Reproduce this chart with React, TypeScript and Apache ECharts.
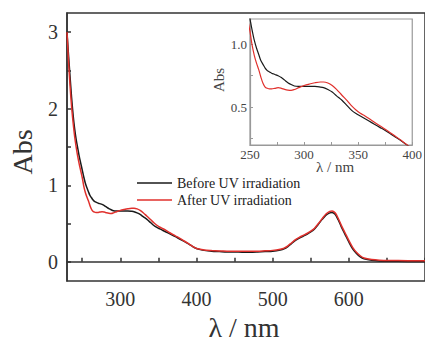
import React, { useEffect, useRef } from "react";
import * as echarts from "echarts";

const wavelengths = [
  230, 232, 234, 236, 238, 240, 242, 244, 246, 248, 250, 252, 254, 256, 258, 260, 262, 264, 266, 268,
  270, 273, 276, 279, 282, 285, 288, 291, 295, 300, 305, 310, 315, 318, 322, 326, 330, 335, 340, 344,
  348, 352, 356, 360, 365, 370, 375, 380, 385, 390, 395, 400, 405, 410, 420, 430, 440, 450, 460, 470,
  480, 490, 500, 510, 515, 520, 525, 530, 535, 540, 545, 550, 555, 560, 565, 570, 575, 578, 582, 586,
  590, 595, 600, 605, 610, 615, 620, 630, 640, 660, 680, 700,
];

const beforeUV = [
  3.0, 2.7, 2.42, 2.15, 1.92, 1.74, 1.6, 1.49, 1.38, 1.29, 1.2, 1.11, 1.03, 0.97, 0.92, 0.87, 0.84, 0.81, 0.79, 0.78,
  0.77, 0.76, 0.75, 0.735, 0.715, 0.695, 0.68, 0.668, 0.665, 0.665, 0.665, 0.665, 0.66, 0.655, 0.64, 0.62, 0.59, 0.555, 0.51, 0.475,
  0.45, 0.43, 0.41, 0.39, 0.365, 0.34, 0.315, 0.287, 0.26, 0.232, 0.2, 0.175, 0.16, 0.15, 0.14, 0.135, 0.13, 0.128, 0.127, 0.127,
  0.13, 0.135, 0.14, 0.155, 0.17, 0.2, 0.24, 0.28, 0.31, 0.335, 0.36, 0.39, 0.43, 0.49, 0.555, 0.61, 0.64, 0.645, 0.62, 0.55,
  0.46, 0.36, 0.26, 0.17, 0.11, 0.065, 0.04, 0.02, 0.012, 0.008, 0.005, 0.005,
];

const afterUV = [
  3.0, 2.62, 2.3, 2.03, 1.82, 1.64, 1.5, 1.38, 1.28, 1.19, 1.1, 0.99, 0.91, 0.85, 0.8, 0.74, 0.69, 0.66, 0.65, 0.645,
  0.645, 0.65, 0.655, 0.65, 0.642, 0.636, 0.633, 0.64, 0.655, 0.672, 0.684, 0.694, 0.7, 0.7, 0.692, 0.672, 0.642, 0.595, 0.55, 0.51,
  0.478, 0.452, 0.432, 0.41, 0.38, 0.352, 0.325, 0.296, 0.266, 0.235, 0.203, 0.175, 0.165, 0.155, 0.148, 0.143, 0.14, 0.138, 0.137, 0.138,
  0.14, 0.145, 0.15, 0.165, 0.18, 0.21, 0.25, 0.29, 0.32, 0.345, 0.37, 0.4, 0.44, 0.5, 0.565, 0.625, 0.66, 0.665, 0.64, 0.57,
  0.48, 0.38, 0.28, 0.19, 0.125, 0.08, 0.05, 0.03, 0.022, 0.018, 0.015, 0.015,
];

const mainXTicks = [250, 300, 350, 400, 450, 500, 550, 600, 650, 700];
const mainXLabels = [300, 400, 500, 600];
const mainYTicks = [0, 0.5, 1, 1.5, 2, 2.5, 3];
const mainYLabels = [0, 1, 2, 3];
const insetXTicks = [250, 275, 300, 325, 350, 375, 400];
const insetXLabels = [250, 300, 350, 400];
const insetYTicks = [0.25, 0.5, 0.75, 1.0];
const insetYLabels = [0.5, 1.0];

const seriesNames = ["Before UV irradiation", "After UV irradiation"];
const FONT = "Liberation Serif";

export default function App() {
  const ref = useRef<HTMLDivElement>(null);
  useEffect(() => {
    document.body.style.margin = "0";
    if (!ref.current) return;
    const chart = echarts.init(ref.current, undefined, { renderer: "svg" });
    const before = wavelengths.map((w, i) => [w, beforeUV[i]]);
    const after = wavelengths.map((w, i) => [w, afterUV[i]]);
    const mainAxisLine = { lineStyle: { color: "#333", width: 1.5 } };
    const insetAxisLine = { lineStyle: { color: "#999", width: 1.2 } };
    const txt = (text: string, x: number, y: number, size: number, fill: string, rot = 0) => ({
      type: "text", x, y, rotation: rot,
      style: { text, fontFamily: FONT, fontSize: size, fill, align: "center", verticalAlign: "middle" },
    });
    chart.setOption({
      animation: false,
      backgroundColor: "#fff",
      textStyle: { fontFamily: FONT },
      grid: [
        { left: 67, right: -9, top: 13, bottom: 64, show: true, borderColor: "#333", borderWidth: 1.5 },
        { left: 250, top: 19, width: 170, height: 126, show: true, borderColor: "#999", borderWidth: 1.2, backgroundColor: "#fff" },
      ],
      legend: {
        data: seriesNames.map((n) => ({ name: n, icon: "rect" })),
        orient: "vertical",
        left: 137,
        top: 176,
        itemWidth: 35,
        itemHeight: 1.5,
        itemGap: 3,
        padding: 0,
        textStyle: { fontFamily: FONT, fontSize: 14, color: "#222" },
      },
      xAxis: [
        {
          gridIndex: 0, type: "value", min: 230, max: 700,
          axisLine: mainAxisLine,
          splitLine: { show: false },
          axisTick: { inside: true, length: 4, lineStyle: { color: "#333", width: 1.5 }, customValues: mainXTicks },
          axisLabel: { customValues: mainXLabels, fontFamily: FONT, fontSize: 20, color: "#333", margin: 8 },
        },
        {
          gridIndex: 1, type: "value", min: 250, max: 400,
          axisLine: insetAxisLine,
          splitLine: { show: false },
          axisTick: { inside: true, length: 3, lineStyle: { color: "#999", width: 1 }, customValues: insetXTicks },
          axisLabel: { customValues: insetXLabels, fontFamily: FONT, fontSize: 13, color: "#444", margin: 3 },
        },
      ],
      yAxis: [
        {
          gridIndex: 0, type: "value", min: -0.25, max: 3.25,
          axisLine: mainAxisLine,
          splitLine: { show: false },
          axisTick: { inside: true, length: 4, lineStyle: { color: "#333", width: 1.5 }, customValues: mainYTicks },
          axisLabel: { customValues: mainYLabels, fontFamily: FONT, fontSize: 20, color: "#333", margin: 9 },
        },
        {
          gridIndex: 1, type: "value", min: 0.2, max: 1.2,
          axisLine: insetAxisLine,
          splitLine: { show: false },
          axisTick: { inside: true, length: 3, lineStyle: { color: "#999", width: 1 }, customValues: insetYTicks },
          axisLabel: { customValues: insetYLabels, fontFamily: FONT, fontSize: 13, color: "#444", margin: 3, formatter: (v: number) => v.toFixed(1) },
        },
      ],
      series: [
        { name: seriesNames[0], type: "line", xAxisIndex: 0, yAxisIndex: 0, data: before, symbol: "none", smooth: 0.3, clip: true, lineStyle: { color: "#1a1a1a", width: 1.5 }, itemStyle: { color: "#1a1a1a" } },
        { name: seriesNames[1], type: "line", xAxisIndex: 0, yAxisIndex: 0, data: after, symbol: "none", smooth: 0.3, clip: true, lineStyle: { color: "#e0302c", width: 1.5 }, itemStyle: { color: "#e0302c" } },
        { name: seriesNames[0], type: "line", xAxisIndex: 1, yAxisIndex: 1, data: before, symbol: "none", smooth: 0.3, clip: true, lineStyle: { color: "#1a1a1a", width: 1.2 }, itemStyle: { color: "#1a1a1a" } },
        { name: seriesNames[1], type: "line", xAxisIndex: 1, yAxisIndex: 1, data: after, symbol: "none", smooth: 0.3, clip: true, lineStyle: { color: "#e0302c", width: 1.2 }, itemStyle: { color: "#e0302c" } },
      ],
      graphic: [
        txt("λ / nm", 244, 327, 28, "#333"),
        txt("Abs", 22, 152, 28, "#333", Math.PI / 2),
        txt("λ / nm", 335, 167, 15, "#444"),
        txt("Abs", 219, 80, 15, "#444", Math.PI / 2),
      ],
    });
    return () => chart.dispose();
  }, []);
  return <div ref={ref} style={{ width: 425, height: 345 }} />;
}
